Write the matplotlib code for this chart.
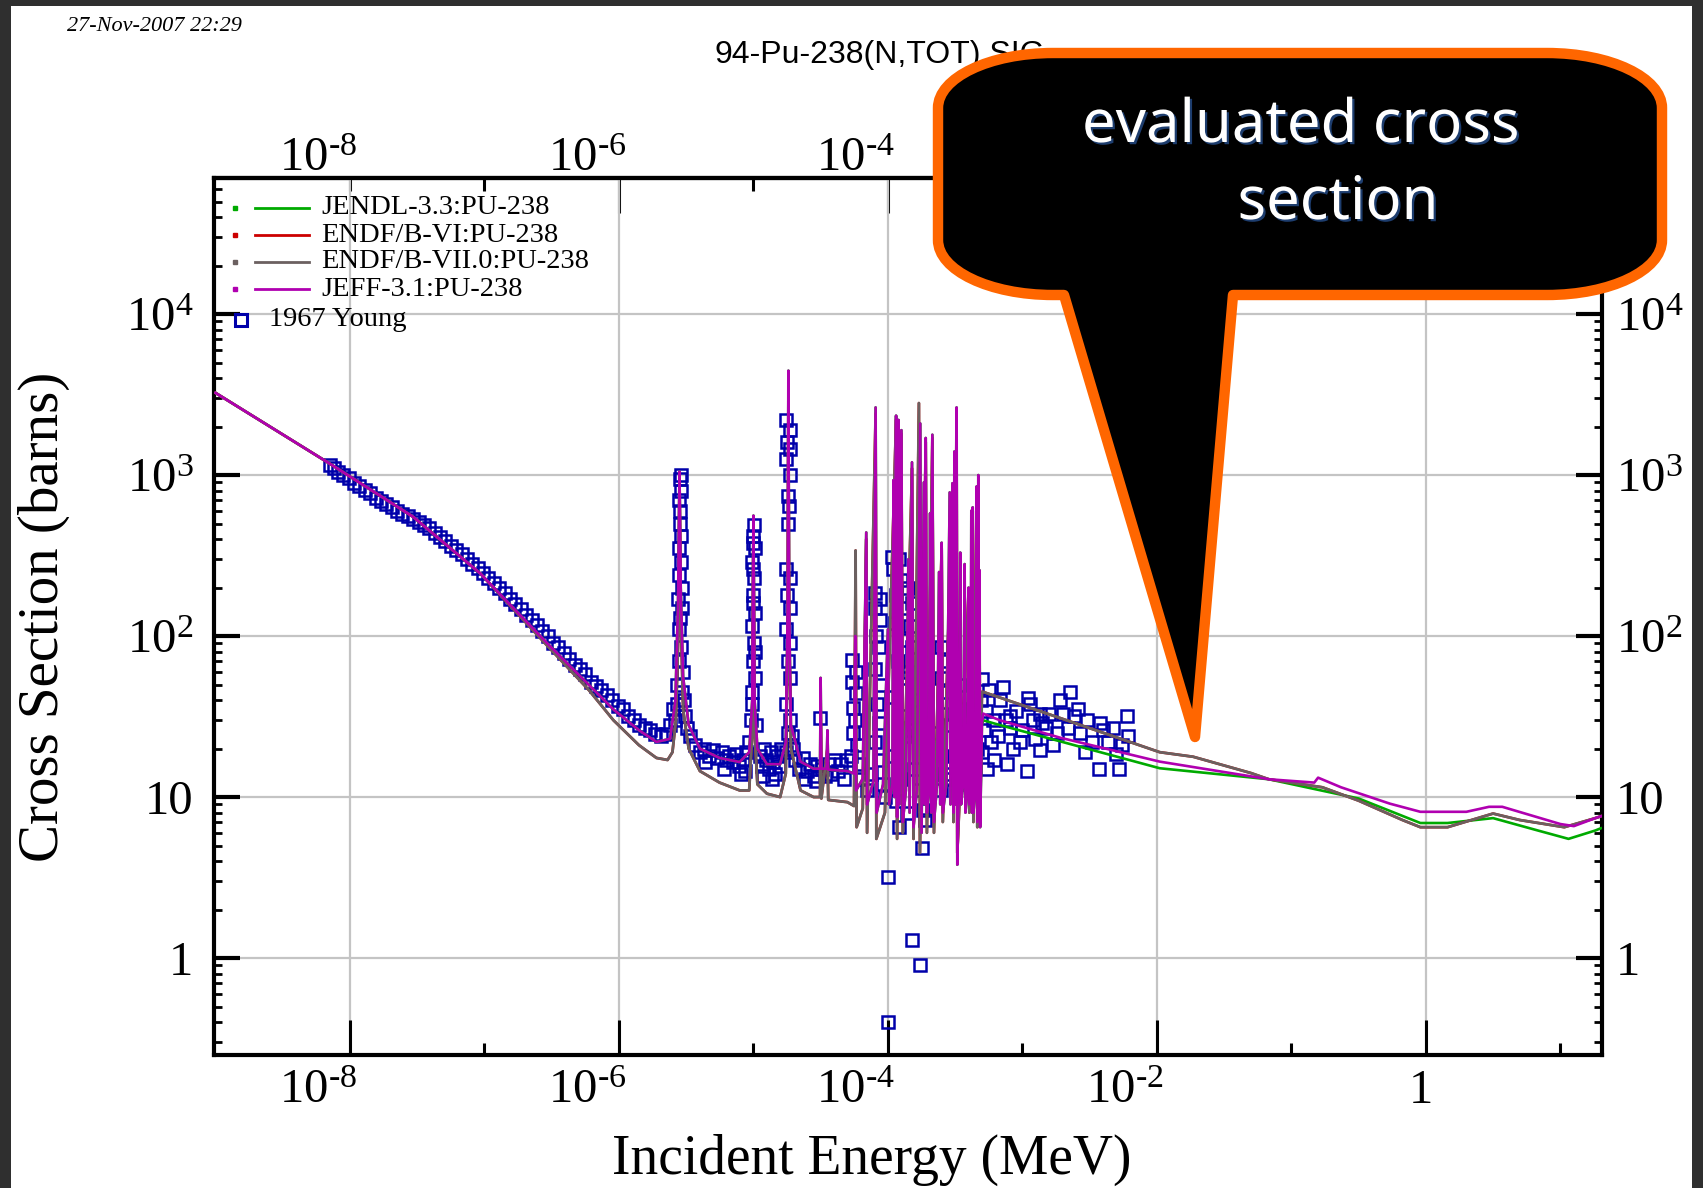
import matplotlib
matplotlib.use("Agg")
import matplotlib.pyplot as plt
from matplotlib.path import Path
from matplotlib.patches import PathPatch, Rectangle
import matplotlib.transforms as mtransforms
import matplotlib.patheffects as pe
from matplotlib.ticker import FixedLocator, FixedFormatter, NullFormatter

plt.rcParams['mathtext.fontset'] = 'custom'
plt.rcParams['mathtext.rm'] = 'Liberation Serif'
plt.rcParams['mathtext.it'] = 'Liberation Serif:italic'
plt.rcParams['mathtext.bf'] = 'Liberation Serif:bold'
plt.rcParams['font.family'] = ['Liberation Serif', 'DejaVu Sans']

# ---------------- data (E in MeV, sigma in barns) ----------------
jeff_low = [
    (1.0e-9, 3240), (7.1e-9, 1175), (2.95e-8, 550), (9.3e-8, 245), (2.9e-7, 91),
    (9.1e-7, 35), (1.41e-6, 26), (1.9e-6, 22), (2.4e-6, 23), (2.63e-6, 40),
    (2.75e-6, 160), (2.82e-6, 1050), (2.88e-6, 200), (3.0e-6, 56), (3.3e-6, 28),
    (4.0e-6, 20), (5.6e-6, 17.5), (7.9e-6, 16.5), (9.3e-6, 19), (9.8e-6, 40),
    (1.0e-5, 560), (1.02e-5, 40), (1.07e-5, 20), (1.26e-5, 16), (1.58e-5, 16),
    (1.74e-5, 22), (1.80e-5, 160), (1.82e-5, 4450), (1.84e-5, 160), (1.90e-5, 28),
    (2.24e-5, 16.6), (2.8e-5, 15), (3.13e-5, 15), (3.16e-5, 55), (3.2e-5, 15),
    (3.5e-5, 15), (3.55e-5, 26), (3.6e-5, 14.8),
    (5.0e-5, 14.5), (5.6e-5, 14), (5.72e-5, 100), (5.8e-5, 11), (6.5e-5, 13),
    (6.9e-5, 440), (7.0e-5, 9), (7.8e-5, 12.5), (8.1e-5, 2630), (8.25e-5, 8),
    (9.2e-5, 12), (1.0e-4, 110), (1.02e-4, 9), (1.08e-4, 12), (1.10e-4, 930),
    (1.12e-4, 10), (1.15e-4, 2340), (1.17e-4, 7.5), (1.20e-4, 2200), (1.22e-4, 9),
    (1.26e-4, 1900), (1.29e-4, 7), (1.36e-4, 11), (1.42e-4, 300), (1.45e-4, 8),
    (1.51e-4, 1200), (1.55e-4, 6.5), (1.64e-4, 11), (1.74e-4, 2090), (1.78e-4, 6),
    (1.85e-4, 900), (1.88e-4, 9), (1.91e-4, 1700), (1.95e-4, 8), (2.02e-4, 11),
    (2.06e-4, 580), (2.1e-4, 8), (2.14e-4, 1780), (2.2e-4, 7), (2.32e-4, 12),
    (2.4e-4, 250), (2.45e-4, 9), (2.51e-4, 380), (2.56e-4, 8), (2.72e-4, 12),
    (2.88e-4, 780), (2.92e-4, 9), (3.02e-4, 890), (3.07e-4, 8), (3.12e-4, 1400),
    (3.17e-4, 9), (3.24e-4, 2630), (3.28e-4, 3.8), (3.36e-4, 11), (3.45e-4, 330),
    (3.5e-4, 9), (3.62e-4, 12), (3.72e-4, 280), (3.77e-4, 8), (3.9e-4, 11),
    (3.98e-4, 200), (4.03e-4, 9), (4.12e-4, 11), (4.17e-4, 600), (4.22e-4, 8),
    (4.27e-4, 630), (4.32e-4, 8), (4.48e-4, 11), (4.57e-4, 850), (4.62e-4, 7),
    (4.7e-4, 1000), (4.74e-4, 9), (4.79e-4, 257), (4.85e-4, 6.5), (5.0e-4, 28),
]
jeff_high = [
    (5.1e-4, 33), (6.8e-4, 30), (1.9e-3, 23.4), (1.05e-2, 16.6), (0.068, 12.9),
    (0.148, 12.3), (0.158, 13.2), (0.234, 11.5), (0.54, 9.1), (0.91, 8.1),
    (2.0, 8.1), (2.95, 8.7), (3.7, 8.7), (10.0, 6.8), (12.6, 6.6), (18.2, 7.4),
    (20.0, 7.6),
]
jendl_high = [
    (5.1e-4, 30), (6.8e-4, 28), (1.05e-2, 15.1), (0.068, 12.9), (0.316, 9.8),
    (0.91, 6.9), (1.45, 6.9), (3.16, 7.4), (6.8, 6.2), (11.5, 5.5), (18.2, 6.2),
    (20.0, 6.4),
]
endf7_low = [
    (1.0e-9, 3240), (7.1e-9, 1175), (2.95e-8, 550), (9.3e-8, 245), (2.9e-7, 88),
    (6.0e-7, 46), (9.1e-7, 30), (1.41e-6, 21), (1.9e-6, 17.5), (2.3e-6, 17),
    (2.5e-6, 19), (2.65e-6, 30), (2.78e-6, 120), (2.82e-6, 1000), (2.87e-6, 150),
    (3.0e-6, 35), (3.3e-6, 20), (4.0e-6, 14.5), (5.6e-6, 12.3), (7.9e-6, 11),
    (9.3e-6, 11), (9.8e-6, 25), (1.0e-5, 480), (1.02e-5, 25), (1.07e-5, 12),
    (1.26e-5, 10.5), (1.58e-5, 10), (1.74e-5, 14), (1.8e-5, 120), (1.82e-5, 4300),
    (1.84e-5, 120), (1.9e-5, 20), (2.24e-5, 11), (2.8e-5, 10), (3.13e-5, 10),
    (3.16e-5, 40), (3.2e-5, 9.8), (3.55e-5, 20), (3.6e-5, 9.6), (5.0e-5, 9.3),
    (5.6e-5, 8.8), (5.75e-5, 340), (5.85e-5, 6.5), (6.5e-5, 8.5), (6.9e-5, 400),
    (7.0e-5, 6), (8.1e-5, 2400), (8.2e-5, 5.5), (9.5e-5, 8), (1.15e-4, 2200),
    (1.17e-4, 5.5), (1.26e-4, 1800), (1.29e-4, 6), (1.51e-4, 1100), (1.55e-4, 5.5),
    (1.70e-4, 2800), (1.73e-4, 4.5), (1.91e-4, 1600), (1.95e-4, 6), (2.14e-4, 1700),
    (2.2e-4, 6), (2.51e-4, 350), (2.56e-4, 7), (3.02e-4, 850), (3.07e-4, 7),
    (3.24e-4, 2500), (3.28e-4, 4.5), (3.98e-4, 190), (4.03e-4, 8), (4.27e-4, 600),
    (4.32e-4, 7), (4.57e-4, 820), (4.62e-4, 6.5), (4.79e-4, 250), (4.85e-4, 7),
    (5.0e-4, 45),
]
endf7_high = [
    (5.1e-4, 45), (1.9e-3, 31), (1.05e-2, 19), (1.86e-2, 17.8), (5.0e-2, 14.1),
    (6.8e-2, 12.9), (0.17, 11.5), (0.316, 9.5), (0.67, 7.2), (0.91, 6.5),
    (1.45, 6.5), (3.16, 7.9), (5.0, 7.2), (10.7, 6.5), (18.2, 7.4), (20.0, 7.6),
]

young_low = [
    (7.1e-9, 1150), (7.6e-9, 1100), (8.1e-9, 1050), (8.9e-9, 1000), (9.8e-9, 955),
    (1.07e-8, 890), (1.17e-8, 850), (1.29e-8, 810), (1.41e-8, 775), (1.55e-8, 725),
    (1.70e-8, 690), (1.86e-8, 660), (2.04e-8, 630), (2.24e-8, 600), (2.45e-8, 575),
    (2.69e-8, 560), (2.95e-8, 535), (3.24e-8, 510), (3.55e-8, 490), (3.89e-8, 470),
    (4.27e-8, 435), (4.68e-8, 415), (5.13e-8, 390), (5.62e-8, 365), (6.17e-8, 340),
    (6.76e-8, 325), (7.41e-8, 300), (8.13e-8, 280), (8.91e-8, 265), (9.77e-8, 245),
    (1.07e-7, 230), (1.17e-7, 215), (1.29e-7, 200), (1.41e-7, 185), (1.55e-7, 170),
    (1.70e-7, 158), (1.86e-7, 148), (2.04e-7, 135), (2.24e-7, 126), (2.45e-7, 117),
    (2.69e-7, 107), (2.95e-7, 100), (3.24e-7, 91), (3.55e-7, 85), (3.89e-7, 78),
    (4.27e-7, 72), (4.68e-7, 66), (5.13e-7, 62), (5.62e-7, 58), (6.17e-7, 52),
    (6.76e-7, 49), (7.41e-7, 46), (8.13e-7, 43), (8.91e-7, 40), (9.77e-7, 37),
    (1.07e-6, 35), (1.17e-6, 32), (1.29e-6, 30), (1.41e-6, 28), (1.55e-6, 27),
    (1.70e-6, 26), (1.86e-6, 24.5), (2.04e-6, 24), (2.24e-6, 24.5), (2.40e-6, 28),
    (2.51e-6, 35),
]
young_res = [
    (2.72e-6, 50), (2.95e-6, 45), (2.78e-6, 70), (2.9e-6, 85), (2.8e-6, 110),
    (2.86e-6, 130), (2.76e-6, 170), (2.92e-6, 200), (2.82e-6, 240), (2.88e-6, 290),
    (2.8e-6, 350), (2.9e-6, 420), (2.84e-6, 500), (2.86e-6, 600), (2.8e-6, 700),
    (2.9e-6, 800), (2.84e-6, 950), (2.88e-6, 1000), (2.95e-6, 150), (3.0e-6, 60),
    (3.05e-6, 40), (2.68e-6, 38), (2.62e-6, 30), (3.12e-6, 32), (3.2e-6, 27),
    (3.4e-6, 24), (3.7e-6, 21), (4.0e-6, 19), (4.3e-6, 20), (4.7e-6, 18),
    (5.0e-6, 19.5), (5.4e-6, 17.5), (5.8e-6, 19), (6.2e-6, 17), (6.6e-6, 18),
    (7.0e-6, 16.5), (7.4e-6, 18.5), (7.8e-6, 15.5), (8.3e-6, 17), (8.8e-6, 19),
    (9.2e-6, 22), (4.4e-6, 16.5), (6.0e-6, 15), (8.1e-6, 14), (8.6e-6, 14.5),
    (9.6e-6, 30), (1.04e-5, 28), (9.8e-6, 45), (1.02e-5, 55), (9.9e-6, 70),
    (1.01e-5, 90), (9.8e-6, 115), (1.02e-5, 140), (9.9e-6, 180), (1.01e-5, 230),
    (9.8e-6, 290), (1.02e-5, 350), (9.9e-6, 420), (1.01e-5, 490), (1.0e-5, 380),
    (1.0e-5, 260), (1.0e-5, 160), (1.03e-5, 80), (9.7e-6, 38),
    (1.12e-5, 18), (1.16e-5, 15.5), (1.2e-5, 20), (1.25e-5, 17), (1.3e-5, 15),
    (1.35e-5, 19), (1.4e-5, 16.5), (1.45e-5, 14), (1.5e-5, 18), (1.55e-5, 15.5),
    (1.6e-5, 20), (1.18e-5, 13.5), (1.38e-5, 13),
    (1.76e-5, 2200), (1.88e-5, 1900), (1.78e-5, 1600), (1.86e-5, 1450), (1.76e-5, 1250),
    (1.88e-5, 1000), (1.8e-5, 740), (1.85e-5, 640), (1.82e-5, 500), (1.76e-5, 260),
    (1.88e-5, 230), (1.78e-5, 180), (1.86e-5, 150), (1.76e-5, 110), (1.88e-5, 90),
    (1.8e-5, 70), (1.86e-5, 55), (1.76e-5, 38), (1.88e-5, 30), (1.8e-5, 25),
    (1.86e-5, 21), (1.74e-5, 19), (1.92e-5, 24), (1.96e-5, 20),
    (2.05e-5, 17), (2.2e-5, 15), (2.35e-5, 17.5), (2.5e-5, 14.5), (2.65e-5, 16),
    (2.8e-5, 13.5), (2.95e-5, 15.5), (3.1e-5, 31), (3.25e-5, 15), (3.4e-5, 13.5),
    (3.6e-5, 16), (3.8e-5, 14), (4.0e-5, 17), (4.25e-5, 14.5), (4.5e-5, 16),
    (4.75e-5, 13), (5.0e-5, 17), (2.4e-5, 13), (2.9e-5, 12.5),
]
young_cluster = [
    (5.4e-5, 71), (5.8e-5, 60), (5.4e-5, 52), (5.8e-5, 44), (5.5e-5, 36),
    (5.7e-5, 30), (5.5e-5, 25), (5.9e-5, 21), (5.3e-5, 18), (6.1e-5, 16), (6.3e-5, 13),
    (8.0e-5, 186), (8.7e-5, 170), (8.0e-5, 150), (8.7e-5, 125), (8.2e-5, 100),
    (8.6e-5, 85), (8.0e-5, 62), (8.7e-5, 50), (8.3e-5, 38), (8.6e-5, 29),
    (8.0e-5, 22), (8.8e-5, 17), (7.5e-5, 14), (9.2e-5, 12), (7.0e-5, 11), (9.5e-5, 10),
    (1.08e-4, 310), (1.2e-4, 300), (1.1e-4, 260), (1.25e-4, 224), (1.15e-4, 180),
    (1.3e-4, 150), (1.12e-4, 120), (1.35e-4, 95), (1.18e-4, 70), (1.28e-4, 55),
    (1.05e-4, 42), (1.22e-4, 32), (1.32e-4, 24), (1.1e-4, 18), (1.25e-4, 13),
    (1.15e-4, 9.5), (1.38e-4, 8), (1.2e-4, 6.5),
    (1.0e-4, 3.2), (1.51e-4, 1.3), (1.74e-4, 0.9), (1.0e-4, 0.4), (1.78e-4, 4.8),
    (1.42e-4, 200), (1.5e-4, 160), (1.45e-4, 115), (1.52e-4, 85), (1.44e-4, 60),
    (1.5e-4, 40), (1.46e-4, 26), (1.55e-4, 15),
    (1.82e-4, 8.3), (1.88e-4, 7.2), (1.7e-4, 11), (1.95e-4, 14), (2.05e-4, 20),
    (2.2e-4, 14), (2.3e-4, 25),
    (2.5e-4, 85), (2.6e-4, 70), (2.5e-4, 55), (2.65e-4, 45), (2.55e-4, 33),
    (2.6e-4, 14), (2.5e-4, 11), (2.9e-4, 28), (3.0e-4, 13), (3.1e-4, 18),
    (3.35e-4, 50), (3.45e-4, 35), (3.4e-4, 25), (3.5e-4, 18), (3.6e-4, 12),
    (3.8e-4, 22), (4.0e-4, 16), (4.2e-4, 17), (4.4e-4, 13), (4.6e-4, 20),
    (5.0e-4, 54), (5.6e-4, 46), (4.9e-4, 40), (5.4e-4, 34), (6.0e-4, 30),
    (5.2e-4, 26), (5.8e-4, 22), (5.0e-4, 19), (6.2e-4, 17), (5.5e-4, 15),
]
young_high = [
    (6.8e-4, 40), (7.2e-4, 48), (7.5e-4, 30), (8.1e-4, 32), (8.1e-4, 27),
    (7.7e-4, 16), (9.0e-4, 34), (9.6e-4, 22), (1.0e-3, 26), (1.09e-3, 14.5),
    (1.1e-3, 41), (1.14e-3, 38), (1.2e-3, 30), (1.35e-3, 33), (1.35e-3, 19.5),
    (1.41e-3, 29), (1.5e-3, 27), (1.59e-3, 33), (1.8e-3, 25), (1.9e-3, 40),
    (2.0e-3, 33), (2.24e-3, 45), (2.4e-3, 32), (2.6e-3, 35), (2.7e-3, 25),
    (3.0e-3, 30), (3.3e-3, 22), (3.7e-3, 15), (3.8e-3, 29), (4.3e-3, 22),
    (4.7e-3, 27), (5.0e-3, 18.6), (5.2e-3, 15), (6.0e-3, 32), (6.1e-3, 24),
    (6.6e-4, 24), (8.5e-4, 20), (1.25e-3, 23), (1.7e-3, 21), (2.2e-3, 27),
    (2.9e-3, 19), (4.0e-3, 26), (5.5e-3, 21),
]

legend_labels = ["JENDL-3.3:PU-238", "ENDF/B-VI:PU-238", "ENDF/B-VII.0:PU-238",
                 "JEFF-3.1:PU-238", "1967 Young"]
legend_colors = ["#00aa00", "#cc0000", "#6b6060", "#b000b0", "#0000aa"]

HY = "\u2010"
xtick_major = [1e-8, 1e-6, 1e-4, 1e-2, 1]
xtick_major_labels = ["$10^{%s8}$" % HY, "$10^{%s6}$" % HY, "$10^{%s4}$" % HY,
                      "$10^{%s2}$" % HY, "1"]
xtick_minor = [1e-7, 1e-5, 1e-3, 1e-1, 10]
top_major = [1e-6, 1e-4, 1e-2, 1]
top_major_labels = ["$10^{%s6}$" % HY, "$10^{%s4}$" % HY, "", ""]
top_minor = [1e-8, 1e-7, 1e-5, 1e-3, 1e-1, 10]
top_minor_labels = ["$10^{%s8}$" % HY, "", "", "", "", ""]
ytick_major = [1, 10, 100, 1000, 10000]
ytick_labels = ["1", "10", "$10^{2}$", "$10^{3}$", "$10^{4}$"]

def unzip(pts):
    return [p[0] for p in pts], [p[1] for p in pts]

# ---------------- figure ----------------
W, H = 1703, 1188
fig = plt.figure(figsize=(W / 100, H / 100), dpi=100, facecolor='#2f2f2f')
fig.add_artist(Rectangle((11 / W, 0), (1692 - 11) / W, (H - 6) / H,
                         transform=fig.transFigure, facecolor='white',
                         edgecolor='none', zorder=-1))

ax = fig.add_axes([214 / W, 1 - 1055 / H, (1602 - 214) / W, (1055 - 178) / H])
ax.set_xscale('log')
ax.set_yscale('log')
ax.set_xlim(9.75e-10, 20.4)
ax.set_ylim(0.25, 7.0e4)

e, s = unzip(young_low + young_res + young_cluster + young_high)
ax.plot(e, s, ls='none', marker='s', ms=9.3, mfc='none', mec='#0000aa',
        mew=1.8, zorder=2)
e, s = unzip(jeff_low + jendl_high)
ax.plot(e, s, color=legend_colors[0], lw=1.9, zorder=3)
e, s = unzip(endf7_low + endf7_high)
ax.plot(e, s, color=legend_colors[1], lw=1.9, zorder=3)
ax.plot(e, s, color=legend_colors[2], lw=2.0, zorder=3)
e, s = unzip(jeff_low + jeff_high)
ax.plot(e, s, color=legend_colors[3], lw=1.9, zorder=3)

# ticks
ax.xaxis.set_major_locator(FixedLocator(xtick_major))
ax.xaxis.set_major_formatter(FixedFormatter(xtick_major_labels))
ax.xaxis.set_minor_locator(FixedLocator(xtick_minor))
ax.xaxis.set_minor_formatter(NullFormatter())
ax.yaxis.set_major_locator(FixedLocator(ytick_major))
ax.yaxis.set_major_formatter(FixedFormatter(ytick_labels))
ymin_ticks = [m * 10.0 ** k for k in range(-1, 5) for m in range(2, 10)]
ax.yaxis.set_minor_locator(FixedLocator([t for t in ymin_ticks if 0.25 < t < 7e4]))
ax.yaxis.set_minor_formatter(NullFormatter())

ax.tick_params(axis='x', which='major', direction='in', length=25, width=2.2,
               bottom=True, top=False, labelsize=35, pad=10)
ax.tick_params(axis='x', which='minor', direction='in', length=9, width=2.2,
               bottom=True, top=False)
ax.tick_params(axis='y', which='major', direction='in', length=19, width=3,
               left=True, right=True, labelleft=True, labelright=True,
               labelsize=35, pad=15)
ax.tick_params(axis='y', which='minor', direction='in', length=6, width=2,
               left=True, right=True)

shift_r = mtransforms.ScaledTranslation(7 / 100, 0, fig.dpi_scale_trans)
shift_l = mtransforms.ScaledTranslation(-7 / 100, 0, fig.dpi_scale_trans)
for t in ax.xaxis.get_major_ticks():
    t.label1.set_horizontalalignment('right')
    t.label1.set_transform(t.label1.get_transform() + shift_r)
for t in ax.yaxis.get_major_ticks():
    t.label2.set_transform(t.label2.get_transform() + shift_l)

secx = ax.secondary_xaxis('top')
secx.xaxis.set_major_locator(FixedLocator(top_major))
secx.xaxis.set_major_formatter(FixedFormatter(top_major_labels))
secx.xaxis.set_minor_locator(FixedLocator(top_minor))
secx.xaxis.set_minor_formatter(FixedFormatter(top_minor_labels))
secx.tick_params(axis='x', which='major', direction='in', length=25, width=2.2,
                 labelsize=35, pad=-2)
secx.tick_params(axis='x', which='minor', direction='in', length=9, width=2.2,
                 labelsize=35, pad=-2)
for t in secx.xaxis.get_major_ticks() + secx.xaxis.get_minor_ticks():
    for lab in (t.label1, t.label2):
        lab.set_horizontalalignment('right')
        lab.set_transform(lab.get_transform() + shift_r)
for sp in secx.spines.values():
    sp.set_linewidth(3)

ax.grid(True, which='major', color='#c4c4c4', lw=1.6)
ax.set_axisbelow(True)
for sp in ax.spines.values():
    sp.set_linewidth(3)

ax.set_xlabel('Incident Energy (MeV)', fontsize=40)
ax.xaxis.set_label_coords(0.474, -0.090)
ax.set_ylabel('Cross Section (barns)', fontsize=41)
ax.yaxis.set_label_coords(-0.104, 0.50)

# legend (drawn in axes coordinates)
def ax_xy(px_, py_):
    return (px_ - 214) / 1388, (1055 - py_) / 877

leg_y = [208, 235, 262, 289, 320]
for i, lab in enumerate(legend_labels):
    if i < 4:
        xd, yd = ax_xy(235, leg_y[i])
        ax.plot([xd], [yd], marker='s', ms=2.2, color=legend_colors[i],
                transform=ax.transAxes, zorder=5, clip_on=False)
        x0, _ = ax_xy(255, 0)
        x1, _ = ax_xy(309, 0)
        ax.plot([x0, x1], [yd, yd], color=legend_colors[i], lw=2,
                transform=ax.transAxes, zorder=5)
        xt, _ = ax_xy(321, 0)
    else:
        xd, yd = ax_xy(241, leg_y[i])
        ax.plot([xd], [yd], marker='s', ms=8.5, mfc='none', mec=legend_colors[i],
                mew=2.2, transform=ax.transAxes, zorder=5)
        xt, _ = ax_xy(269, 0)
    ax.text(xt, yd, lab, transform=ax.transAxes, fontsize=20.5, ha='left',
            va='center', zorder=5)

# page texts
px = mtransforms.Affine2D().scale(1 / W, 1 / H) + fig.transFigure
fig.text(67, H - 31, '27-Nov-2007 22:29', transform=px, fontsize=16,
         style='italic', family='Liberation Serif', ha='left', va='baseline')
fig.text(714, H - 63, '94-Pu-238(N,TOT),SIG', transform=px, fontsize=23,
         family='Liberation Sans', ha='left', va='baseline', zorder=1)

# callout
def P(x, y):
    return (x, H - y)

L, R, T, B = 938, 1662, 53, 295
rx, ry = 115, 55
k = 0.5523
verts = [P(L + rx, T), P(R - rx, T),
         P(R - rx + k * rx, T), P(R, T + ry - k * ry), P(R, T + ry),
         P(R, B - ry),
         P(R, B - ry + k * ry), P(R - rx + k * rx, B), P(R - rx, B),
         P(1233, B), P(1195, 737), P(1064, B),
         P(L + rx, B),
         P(L + rx - k * rx, B), P(L, B - ry + k * ry), P(L, B - ry),
         P(L, T + ry),
         P(L, T + ry - k * ry), P(L + rx - k * rx, T), P(L + rx, T),
         P(L + rx, T)]
codes = [Path.MOVETO, Path.LINETO,
         Path.CURVE4, Path.CURVE4, Path.CURVE4,
         Path.LINETO,
         Path.CURVE4, Path.CURVE4, Path.CURVE4,
         Path.LINETO, Path.LINETO, Path.LINETO,
         Path.LINETO,
         Path.CURVE4, Path.CURVE4, Path.CURVE4,
         Path.LINETO,
         Path.CURVE4, Path.CURVE4, Path.CURVE4,
         Path.CLOSEPOLY]
callout = PathPatch(Path(verts, codes), facecolor='black', edgecolor='#ff6600',
                    lw=7.5, joinstyle='round', transform=px, zorder=10)
fig.add_artist(callout)

shadow = [pe.SimplePatchShadow(offset=(1.6, -1.6), shadow_rgbFace='#1d3d6e', alpha=1.0),
          pe.Normal()]
fig.text(1301, H - 142, 'evaluated cross', transform=px, fontsize=43,
         family='Noto Sans', color='white', ha='center', va='baseline',
         zorder=11, path_effects=shadow)
fig.text(1338, H - 219, 'section', transform=px, fontsize=43,
         family='Noto Sans', color='white', ha='center', va='baseline',
         zorder=11, path_effects=shadow)

fig.savefig('out.png', dpi=100, facecolor=fig.get_facecolor())
